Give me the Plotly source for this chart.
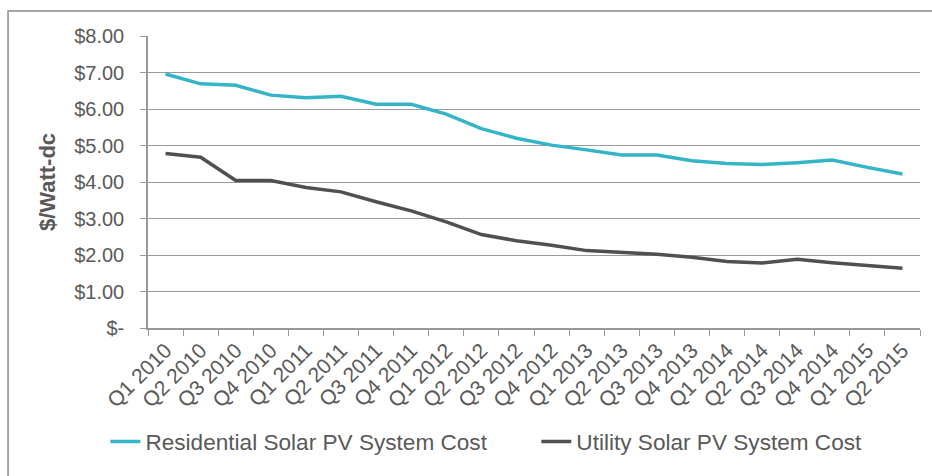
import plotly.graph_objects as go

quarters = ["Q1 2010", "Q2 2010", "Q3 2010", "Q4 2010",
            "Q1 2011", "Q2 2011", "Q3 2011", "Q4 2011",
            "Q1 2012", "Q2 2012", "Q3 2012", "Q4 2012",
            "Q1 2013", "Q2 2013", "Q3 2013", "Q4 2013",
            "Q1 2014", "Q2 2014", "Q3 2014", "Q4 2014",
            "Q1 2015", "Q2 2015"]

residential = [6.96, 6.69, 6.65, 6.38, 6.31, 6.35, 6.13, 6.13,
               5.86, 5.46, 5.20, 5.01, 4.88, 4.74, 4.74, 4.58,
               4.51, 4.48, 4.53, 4.60, 4.40, 4.22]

utility = [4.78, 4.68, 4.04, 4.04, 3.85, 3.73, 3.46, 3.21,
           2.91, 2.56, 2.39, 2.27, 2.12, 2.08, 2.02, 1.94,
           1.82, 1.78, 1.88, 1.79, 1.71, 1.64]

y_tickvals = [0, 1, 2, 3, 4, 5, 6, 7, 8]
y_ticktext = ["$-", "$1.00", "$2.00", "$3.00", "$4.00", "$5.00", "$6.00", "$7.00", "$8.00"]

text_color = "#595959"
font_family = "Liberation Sans, Arial, sans-serif"

fig = go.Figure()
fig.add_trace(go.Scatter(x=quarters, y=residential, mode="lines",
                         name="Residential Solar PV System Cost",
                         line=dict(color="#34B4C7", width=3.5), legend="legend"))
fig.add_trace(go.Scatter(x=quarters, y=utility, mode="lines",
                         name="Utility Solar PV System Cost",
                         line=dict(color="#505050", width=3.5), legend="legend2"))

legend_common = dict(orientation="h", xanchor="left", y=-0.39, yanchor="middle",
                     font=dict(size=22.6, color=text_color), bgcolor="rgba(0,0,0,0)")

fig.update_layout(
    width=932, height=476,
    margin=dict(l=148, r=12, t=36, b=148),
    paper_bgcolor="white", plot_bgcolor="white",
    font=dict(family=font_family, color=text_color, size=18),
    showlegend=True,
    legend=dict(x=-0.0552, **legend_common),
    legend2=dict(x=0.503, **legend_common),
    shapes=[dict(type="rect", xref="paper", yref="paper",
                 x0=-0.1813, x1=1.2, y0=-0.7, y1=1.0856,
                 line=dict(color="#8a8a8a", width=1.5), layer="below")],
)

fig.update_xaxes(type="category", tickangle=-45, showgrid=False,
                 showline=True, linecolor="#999999", linewidth=1.5,
                 ticks="outside", tickson="boundaries", ticklen=6, tickcolor="#999999",
                 tickfont=dict(size=21, color=text_color), range=[-0.5, len(quarters) - 0.5])

fig.update_yaxes(range=[0, 8], tickvals=y_tickvals, ticktext=y_ticktext,
                 showgrid=True, gridcolor="#9a9a9a", gridwidth=1,
                 showline=True, linecolor="#999999", linewidth=1.5,
                 ticks="outside", ticklen=6, tickcolor="#999999",
                 ticklabelstandoff=12,
                 tickfont=dict(size=20, color=text_color), zeroline=False,
                 title=dict(text="<b>$/Watt-dc</b>", font=dict(size=22, color=text_color), standoff=12))

fig.write_html("out.html")
